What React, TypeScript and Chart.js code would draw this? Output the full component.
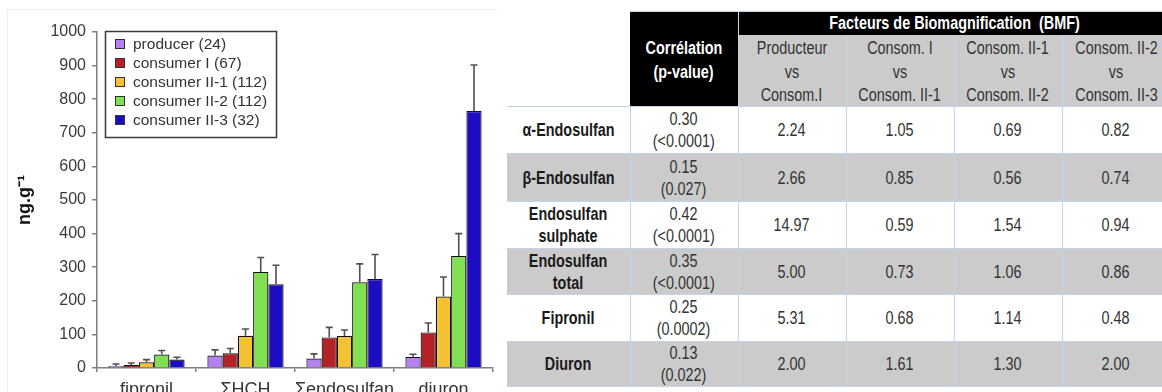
import React, { useEffect, useRef } from "react";
import { Chart, registerables } from "chart.js";

Chart.register(...registerables);

// ---------- chart data ----------
const categories = ["fipronil", "ΣHCH", "Σendosulfan", "diuron"];
const seriesLabels = [
  "producer (24)",
  "consumer I (67)",
  "consumer II-1 (112)",
  "consumer II-2 (112)",
  "consumer II-3 (32)",
];
const seriesColors = ["#b581f0", "#b22226", "#f2c232", "#80e052", "#1c0dc2"];
const producer = [6, 37, 28, 33];
const producerErr = [6, 17, 14, 8];
const consumerI = [9, 44, 91, 106];
const consumerIErr = [6, 14, 30, 28];
const consumerII1 = [17, 96, 95, 213];
const consumerII1Err = [8, 20, 18, 58];
const consumerII2 = [40, 286, 255, 333];
const consumerII2Err = [12, 43, 55, 67];
const consumerII3 = [25, 249, 265, 765];
const consumerII3Err = [7, 57, 73, 137];
const yMin = 0;
const yMax = 1000;
const yStep = 100;
const yTitle = "ng.g⁻¹";

// ---------- table data ----------
const bmfTitle = "Facteurs de Biomagnification  (BMF)";
const corrHeader = ["Corrélation", "(p-value)"];
const bmfHeaders = [
  ["Producteur", "vs", "Consom.I"],
  ["Consom. I", "vs", "Consom. II-1"],
  ["Consom. II-1", "vs", "Consom. II-2"],
  ["Consom. II-2", "vs", "Consom. II-3"],
];
const rowLabels = [
  ["α-Endosulfan"],
  ["β-Endosulfan"],
  ["Endosulfan", "sulphate"],
  ["Endosulfan", "total"],
  ["Fipronil"],
  ["Diuron"],
];
const correlations = ["0.30", "0.15", "0.42", "0.35", "0.25", "0.13"];
const pValues = ["(<0.0001)", "(0.027)", "(<0.0001)", "(<0.0001)", "(0.0002)", "(0.022)"];
const bmfProdConsI = ["2.24", "2.66", "14.97", "5.00", "5.31", "2.00"];
const bmfConsIConsII1 = ["1.05", "0.85", "0.59", "0.73", "0.68", "1.61"];
const bmfConsII1ConsII2 = ["0.69", "0.56", "1.54", "1.06", "1.14", "1.30"];
const bmfConsII2ConsII3 = ["0.82", "0.74", "0.94", "0.86", "0.48", "2.00"];

const seriesValues = [producer, consumerI, consumerII1, consumerII2, consumerII3];
const seriesErrors = [producerErr, consumerIErr, consumerII1Err, consumerII2Err, consumerII3Err];
const bmfColumns = [bmfProdConsI, bmfConsIConsII1, bmfConsII1ConsII2, bmfConsII2ConsII3];

const FONT = "'Liberation Sans', Arial, sans-serif";
const TABLE_FONT = "'Liberation Sans', Arial, sans-serif";

const errorBarsPlugin = {
  id: "errorBars",
  afterDatasetsDraw(chart: any) {
    const ctx = chart.ctx;
    const yScale = chart.scales.y;
    chart.data.datasets.forEach((ds: any, i: number) => {
      const meta = chart.getDatasetMeta(i);
      meta.data.forEach((bar: any, j: number) => {
        const v = ds.data[j];
        const e = ds.errors[j];
        const base = yScale.getPixelForValue(v);
        const top = yScale.getPixelForValue(v + e);
        ctx.save();
        ctx.strokeStyle = "#505050";
        ctx.lineWidth = 1.6;
        ctx.beginPath();
        ctx.moveTo(bar.x, base);
        ctx.lineTo(bar.x, top);
        ctx.moveTo(bar.x - 3.5, top);
        ctx.lineTo(bar.x + 3.5, top);
        ctx.stroke();
        ctx.restore();
      });
    });
  },
};

const boxLegendPlugin = {
  id: "boxLegend",
  afterDraw(chart: any) {
    const ctx = chart.ctx;
    const { left, top } = chart.chartArea;
    const x0 = left + 8;
    const y0 = top - 1;
    const w = 171;
    const h = 106;
    ctx.save();
    ctx.fillStyle = "#ffffff";
    ctx.fillRect(x0, y0, w, h);
    ctx.strokeStyle = "#3a3a3a";
    ctx.lineWidth = 1.5;
    ctx.strokeRect(x0 + 0.5, y0 + 0.5, w, h);
    ctx.font = `15.5px ${FONT}`;
    ctx.textBaseline = "middle";
    chart.data.datasets.forEach((ds: any, i: number) => {
      const cy = y0 + 13 + i * 19;
      ctx.fillStyle = ds.backgroundColor;
      ctx.fillRect(x0 + 10, cy - 5, 10, 10);
      ctx.strokeStyle = "#333";
      ctx.lineWidth = 1;
      ctx.strokeRect(x0 + 10.5, cy - 4.5, 9, 9);
      ctx.fillStyle = "#333";
      ctx.fillText(ds.label, x0 + 28, cy + 1);
    });
    ctx.restore();
  },
};

function BarChart() {
  const ref = useRef<HTMLCanvasElement | null>(null);
  useEffect(() => {
    if (!ref.current) return;
    const chart = new Chart(ref.current, {
      type: "bar",
      data: {
        labels: categories,
        datasets: seriesLabels.map((label, i) => ({
          label,
          data: seriesValues[i],
          errors: seriesErrors[i],
          backgroundColor: seriesColors[i],
          borderColor: "#111",
          borderWidth: 1.2,
          barPercentage: 1,
          categoryPercentage: 0.77,
        })) as any,
      },
      options: {
        animation: false,
        responsive: false,
        maintainAspectRatio: false,
        layout: { padding: { left: 14, right: 7, top: 32, bottom: 0 } },
        plugins: { legend: { display: false }, tooltip: { enabled: false } },
        scales: {
          x: {
            grid: {
              display: true,
              drawOnChartArea: false,
              drawTicks: true,
              tickLength: 4,
              offset: true,
              color: "#808080",
              lineWidth: 1.5,
            },
            border: { display: true, color: "#808080", width: 1.5 },
            ticks: {
              font: { family: FONT, size: 18 },
              color: "#333",
              padding: 7,
              maxRotation: 0,
              autoSkip: false,
            },
            afterFit: (s: any) => {
              s.height = 24;
            },
          },
          y: {
            min: yMin,
            max: yMax,
            ticks: {
              stepSize: yStep,
              font: { family: FONT, size: 16 },
              color: "#3a3a3a",
              padding: 6,
              callback: (v: any) => String(v),
            },
            grid: {
              drawOnChartArea: false,
              drawTicks: true,
              tickLength: 5,
              color: "#808080",
              lineWidth: 1.5,
            },
            border: { display: true, color: "#808080", width: 1.5 },
            title: {
              display: true,
              text: yTitle,
              font: { family: FONT, size: 18, weight: "bold" },
              color: "#111",
              padding: { top: 0, bottom: 0 },
            },
            afterFit: (s: any) => {
              s.width = 97 - 14;
            },
          },
        },
      } as any,
      plugins: [errorBarsPlugin, boxLegendPlugin],
    });
    return () => chart.destroy();
  }, []);
  return <canvas ref={ref} width={500} height={392} style={{ width: 500, height: 392, display: "block" }} />;
}

const BLUE = "#c3d5ec";
const GRAY = "#cbcbcb";
const LABEL_W = 123;
const COL_W = 108;
const ROW_H = [47, 48, 47, 46, 47, 44];

function Lines({ lines, lh, shift = 0 }: { lines: string[]; lh: number; shift?: number }) {
  return (
    <div style={{ position: "relative", top: shift }}>
      {lines.map((t, i) => (
        <div key={i} style={{ lineHeight: `${lh}px`, whiteSpace: "nowrap" }}>
          <span style={{ display: "inline-block", transform: "scaleX(0.8)", transformOrigin: "center" }}>
            {t.split("  ").join("\u00a0\u00a0")}
          </span>
        </div>
      ))}
    </div>
  );
}

function BmfTable() {
  const cellBase: React.CSSProperties = {
    padding: 0,
    textAlign: "center",
    verticalAlign: "middle",
    boxSizing: "border-box",
    overflow: "visible",
  };
  return (
    <table
      style={{
        borderCollapse: "collapse",
        tableLayout: "fixed",
        width: LABEL_W + COL_W * 5,
        fontFamily: TABLE_FONT,
        fontSize: 18,
        color: "#333",
      }}
    >
      <colgroup>
        <col style={{ width: LABEL_W }} />
        {[0, 1, 2, 3, 4].map((i) => (
          <col key={i} style={{ width: COL_W }} />
        ))}
      </colgroup>
      <tbody>
        <tr style={{ height: 23 }}>
          <td rowSpan={2} style={{ ...cellBase, background: "#fff", borderBottom: `1px solid ${BLUE}` }} />
          <td
            rowSpan={2}
            style={{
              ...cellBase,
              background: "#000",
              color: "#fff",
              fontWeight: "bold",
              borderTop: `1px solid ${BLUE}`,
              borderBottom: `1px solid ${BLUE}`,
              borderRight: `1px solid ${BLUE}`,
            }}
          >
            <Lines lines={corrHeader} lh={24} shift={1} />
          </td>
          <td
            colSpan={4}
            style={{
              ...cellBase,
              background: "#000",
              color: "#fff",
              fontWeight: "bold",
              borderTop: `1px solid ${BLUE}`,
            }}
          >
            <Lines lines={[bmfTitle]} lh={22} />
          </td>
        </tr>
        <tr style={{ height: 72 }}>
          {bmfHeaders.map((h, i) => (
            <td
              key={i}
              style={{
                ...cellBase,
                background: GRAY,
                borderLeft: `1px solid ${BLUE}`,
                borderBottom: `1px solid ${BLUE}`,
              }}
            >
              <Lines lines={h} lh={23.5} shift={2} />
            </td>
          ))}
        </tr>
        {rowLabels.map((lab, r) => {
          const bg = r % 2 === 1 ? GRAY : "#fff";
          return (
            <tr key={r} style={{ height: ROW_H[r] }}>
              <td
                style={{
                  ...cellBase,
                  background: bg,
                  fontWeight: "bold",
                  color: "#1a1a1a",
                  borderBottom: `1px solid ${BLUE}`,
                  borderRight: `1px solid ${BLUE}`,
                }}
              >
                <Lines lines={lab} lh={22} />
              </td>
              <td
                style={{
                  ...cellBase,
                  background: bg,
                  borderBottom: `1px solid ${BLUE}`,
                  borderRight: `1px solid ${BLUE}`,
                }}
              >
                <Lines lines={[correlations[r], pValues[r]]} lh={22} />
              </td>
              {bmfColumns.map((col, c) => (
                <td
                  key={c}
                  style={{
                    ...cellBase,
                    background: bg,
                    borderBottom: `1px solid ${BLUE}`,
                    borderRight: `1px solid ${BLUE}`,
                  }}
                >
                  <Lines lines={[col[r]]} lh={22} />
                </td>
              ))}
            </tr>
          );
        })}
      </tbody>
    </table>
  );
}

export default function App() {
  return (
    <div
      style={{
        position: "absolute",
        left: 0,
        top: 0,
        width: 1162,
        height: 392,
        overflow: "hidden",
        background: "#fff",
      }}
    >
      <div
        style={{
          position: "absolute",
          left: 7,
          top: 9,
          width: 490,
          height: 383,
          borderLeft: "1px solid #eeeeee",
          borderTop: "1px solid #eeeeee",
        }}
      />
      <div style={{ position: "absolute", left: 0, top: 0 }}>
        <BarChart />
      </div>
      <div style={{ position: "absolute", left: 507, top: 11, width: 655, height: 381, overflow: "hidden" }}>
        <BmfTable />
      </div>
    </div>
  );
}
